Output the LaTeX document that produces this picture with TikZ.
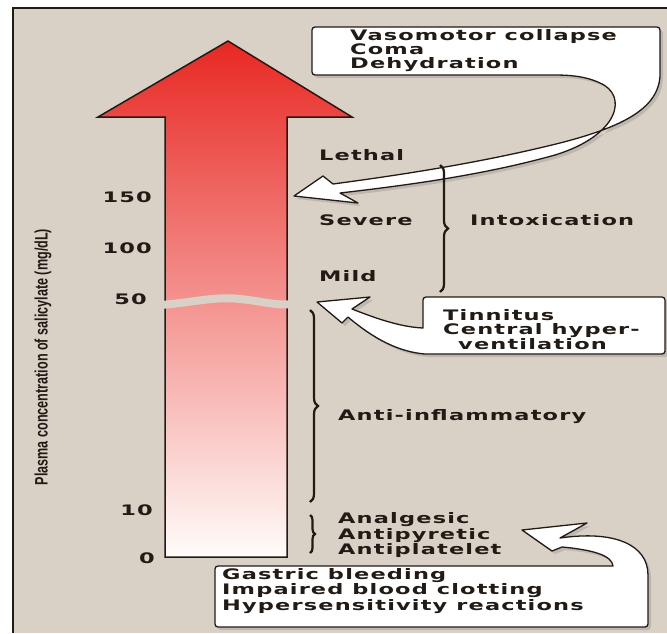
\documentclass[tikz,border=0pt]{standalone}
\usepackage{fontspec}
\usetikzlibrary{decorations.pathreplacing,shadows}

\newfontfamily\lblfont[FakeStretch=1.55,LetterSpace=8]{DejaVu Sans Bold}
\newfontfamily\axisfont[FakeStretch=0.7]{Liberation Sans Bold}

\definecolor{bg}{RGB}{217,208,198}
\definecolor{ink}{RGB}{34,26,20}
\definecolor{hot}{RGB}{232,40,35}
\definecolor{warm}{RGB}{248,178,156}
\definecolor{cool}{RGB}{255,252,250}

\tikzstyle{lbl}=[font=\lblfont\fontsize{14.5}{14}\selectfont,text=ink,inner sep=0pt,anchor=west,align=left]
\tikzstyle{tick}=[lbl,anchor=east]
\tikzstyle{brc}=[draw=ink,line width=2.2pt,decorate,decoration={brace,amplitude=8pt}]
\tikzstyle{callout}=[fill=white,draw=ink,line width=1.3pt,line join=round,
  drop shadow={shadow xshift=3pt,shadow yshift=-3pt,opacity=0.3}]

\begin{document}
\begin{tikzpicture}[x=1pt,y=-1pt]
	\useasboundingbox (0,0) rectangle (667,633);
	% frame
	\fill[bg] (13,8) rectangle (667,633);
	\draw[ink,line width=2pt] (13,633) -- (13,8) -- (667,8);
	% the big arrow
	\path[draw=ink,line width=1.5pt,top color=hot,middle color=warm,bottom color=cool]
		(165,557) -- (165,117) -- (98,117) -- (228,41) -- (352,117) -- (287,117) -- (287,557) -- cycle;
	% break of the scale at 50
	\fill[bg] (160,301) .. controls (190,299) and (215,292) .. (240,295)
		.. controls (262,297) and (275,302) .. (293,300) -- (293,308)
		.. controls (275,310) and (262,305) .. (240,303)
		.. controls (215,300) and (190,307) .. (160,309) -- cycle;
	% scale
	\foreach \val/\xpos/\ypos in {150/152/197, 100/152/248, 50/147/299, 10/153/510, 0/155/558}
		\node[tick] (v\val) at (\xpos,\ypos) {\val};
	\node[font=\axisfont\fontsize{18}{18}\selectfont,text=ink,rotate=90,inner sep=0pt] (axis) at (43,357)
		{Plasma concentration of salicylate (mg/dL)};
	% callouts
	\filldraw[callout] (553,75) [rounded corners=3pt] -- (312,75) -- (312,27) -- (660,27) [sharp corners] -- (660,70)
		.. controls (662,105) and (630,125) .. (560,143)
		.. controls (480,163) and (400,175) .. (333,184)
		-- (323,176) -- (294,196) -- (358,203) -- (340,193)
		.. controls (400,186) and (480,176) .. (555,155)
		.. controls (620,135) and (628,95) .. (600,83)
		.. controls (585,76) and (570,75) .. (553,75) -- cycle;
	\filldraw[callout] (423,328) [rounded corners=3pt] -- (423,297) -- (665,297) -- (665,354) [sharp corners] -- (425,354)
		.. controls (400,352) and (375,340) .. (348,317)
		-- (342,323) -- (317,302) -- (370,297) -- (352,309)
		.. controls (375,318) and (400,327) .. (423,328) -- cycle;
	\filldraw[callout] (613,566) [rounded corners=3pt] -- (215,566) -- (215,627) -- (648,627) [sharp corners] -- (648,575)
		.. controls (648,545) and (615,530) .. (560,538)
		-- (587,523) -- (522,530) -- (552,551) -- (562,547)
		.. controls (595,550) and (612,556) .. (613,566) -- cycle;
	% braces
	\draw[brc] (440,165) -- (440,292);
	\draw[brc] (310,310) -- (310,502);
	\draw[brc,decoration={amplitude=5pt}] (310,515) -- (310,553);
	% texts
	\node[lbl] (vaso) at (350,51) {Vasomotor collapse\\Coma\\Dehydration};
	\node[lbl] (lethal) at (319,155) {Lethal};
	\node[lbl] (severe) at (319,220) {Severe};
	\node[lbl] (mild) at (319,276) {Mild};
	\node[lbl] (intox) at (470,220) {Intoxication};
	\node[lbl] (tinn) at (443,330) {Tinnitus\\Central hyper-\\\hspace*{15pt}ventilation};
	\node[lbl] (antiinf) at (338,417) {Anti-inflammatory};
	\node[lbl] (analg) at (338,535) {Analgesic\\Antipyretic\\Antiplatelet};
	\node[lbl] (gastric) at (222,591) {Gastric bleeding\\Impaired blood clotting\\Hypersensitivity reactions};
\end{tikzpicture}
\end{document}
